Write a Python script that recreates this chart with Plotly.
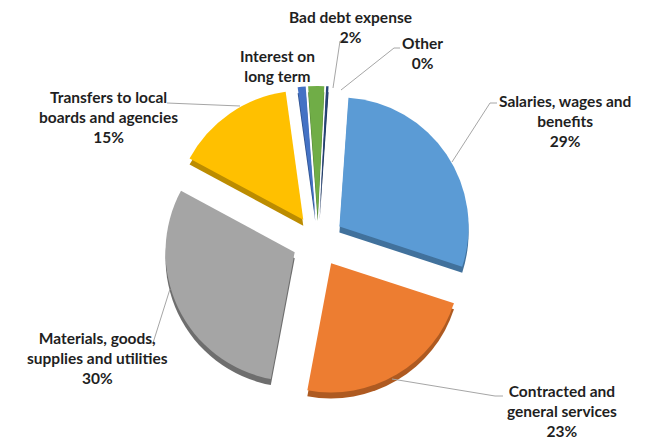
import plotly.graph_objects as go

# ---- data ----
categories = ["Salaries, wages and benefits", "Contracted and general services",
              "Materials, goods, supplies and utilities", "Transfers to local boards and agencies",
              "Interest on long term", "Bad debt expense", "Other"]
values = [29, 23, 30, 15, 1, 2, 0.3]
label_texts = ["Salaries, wages and<br>benefits<br>29%",
               "Contracted and<br>general services<br>23%",
               "Materials, goods,<br>supplies and utilities<br>30%",
               "Transfers to local<br>boards and agencies<br>15%",
               "Interest on<br>long term",
               "Bad debt expense<br>2%",
               "Other<br>0%"]
colors = ["#5B9BD5", "#ED7D31", "#A5A5A5", "#FFC000", "#4472C4", "#70AD47", "#264478"]
side_colors = ["#41719C", "#AE5A21", "#6E6E6E", "#BC8C00", "#2F528F", "#507E32", "#1A2F52"]
pulls = [0.2] * 7

W, H = 645, 439
OFF = 8  # page body margin in the browser window
cx, cy, size = 318, 241, 310


def px(x, y):
    return (x - OFF) / W, 1 - (y - OFF) / H


x0, y1 = px(cx - size / 2, cy - size / 2)
x1, y0 = px(cx + size / 2, cy + size / 2)
depth = 6 / H

fig = go.Figure()
# side (thickness) layer
fig.add_trace(go.Pie(labels=categories, values=values, sort=False, direction="clockwise",
                     rotation=4, pull=pulls, textinfo="none", hoverinfo="skip",
                     marker=dict(colors=side_colors, line=dict(width=0)),
                     domain=dict(x=[x0, x1], y=[y0 - depth, y1 - depth]), showlegend=False))
# top layer
fig.add_trace(go.Pie(labels=categories, values=values, sort=False, direction="clockwise",
                     rotation=4, pull=pulls, textinfo="none",
                     marker=dict(colors=colors, line=dict(width=0)),
                     domain=dict(x=[x0, x1], y=[y0, y1]), showlegend=False))

font = dict(family="Lato, Carlito, Arial", size=15.5, color="#1F1F1F", weight="bold")
label_pos = [(565, 121), (562, 411), (97, 358), (108, 117), (277, 66), (350, 27), (422, 53)]
annotations = []
for t, (lx, ly) in zip(label_texts, label_pos):
    ax_, ay_ = px(lx, ly)
    annotations.append(dict(x=ax_, y=ay_, xref="paper", yref="paper", text=t, showarrow=False,
                            font=font, align="center", xanchor="center", yanchor="middle"))

leaders = [
    [(497, 103), (490, 103), (452, 162)],
    [(503, 396), (495, 396), (392, 379)],
    [(147, 343), (153, 343), (170, 289)],
    [(167, 103), (240, 106)],
    [(346, 41), (340, 41), (333, 88)],
    [(400, 48), (394, 48), (341, 90)],
]
shapes = []
for pts in leaders:
    path = ""
    for i, (x, y) in enumerate(pts):
        u, v = px(x, y)
        path += ("M" if i == 0 else "L") + f" {u} {v} "
    shapes.append(dict(type="path", path=path, xref="paper", yref="paper",
                       line=dict(color="#A6A6A6", width=1)))

fig.update_layout(width=W, height=H, margin=dict(l=0, r=0, t=0, b=0),
                  paper_bgcolor="white", plot_bgcolor="white",
                  annotations=annotations, shapes=shapes, showlegend=False)
fig.write_html("out.html")
